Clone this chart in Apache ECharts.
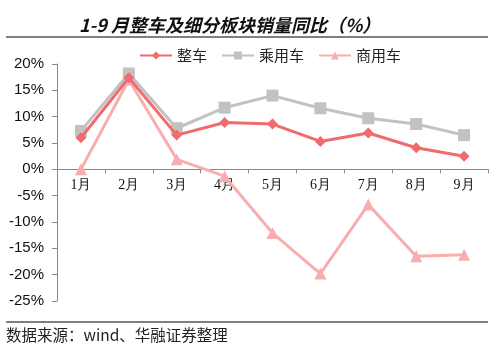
<!DOCTYPE html>
<html>
<head>
<meta charset="utf-8">
<script src="https://cdn.jsdelivr.net/npm/echarts@6/dist/echarts.min.js"></script>
<style>
html, body { margin: 0; padding: 0; background: #fff; }
#main { width: 500px; height: 354px; }
</style>
</head>
<body>
<div id="main"></div>
<script>
var months = ['1月', '2月', '3月', '4月', '5月', '6月', '7月', '8月', '9月'];
var zhengche = [6.0, 17.4, 6.5, 8.9, 8.6, 5.3, 6.9, 4.1, 2.5];
var chengyong = [7.3, 18.2, 7.8, 11.7, 14.0, 11.6, 9.7, 8.6, 6.5];
var shangyong = [0.0, 17.0, 1.9, -1.3, -12.1, -19.8, -6.7, -16.5, -16.2];

var myChart = echarts.init(document.getElementById('main'));
var cjk = '"Noto Sans CJK SC", sans-serif';

var option = {
    backgroundColor: '#fff',
    animation: false,
    title: {
        text: '1-9 月整车及细分板块销量同比（%）',
        left: 74,
        top: 11,
        textStyle: {
            fontFamily: cjk,
            fontSize: 18,
            fontWeight: 'bold',
            fontStyle: 'italic',
            color: '#111'
        }
    },
    legend: {
        data: ['整车', '乘用车', '商用车'],
        top: 43,
        left: 134,
        itemWidth: 32,
        itemHeight: 10,
        itemGap: 14,
        textStyle: { fontFamily: cjk, fontSize: 15, color: '#222' }
    },
    graphic: [
        { type: 'line', shape: { x1: 6, y1: 37, x2: 488, y2: 37 }, style: { stroke: '#000', lineWidth: 1 } },
        { type: 'line', shape: { x1: 6, y1: 322, x2: 488, y2: 322 }, style: { stroke: '#000', lineWidth: 1 } },
        {
            type: 'text', left: 6, top: 327,
            style: { text: '数据来源：wind、华融证券整理', font: '15.5px "Noto Sans CJK SC", sans-serif', fill: '#222' }
        }
    ],
    grid: { left: 57, right: 12, top: 64, bottom: 53, containLabel: false },
    xAxis: {
        type: 'category',
        data: months,
        boundaryGap: true,
        axisLine: { onZero: false, lineStyle: { color: '#888', width: 1 } },
        axisTick: { show: true, alignWithLabel: false, length: 4, lineStyle: { color: '#888' } },
        axisLabel: { fontFamily: 'serif', fontSize: 14, color: '#111', margin: 9 }
    },
    yAxis: {
        type: 'value',
        min: -25,
        max: 20,
        interval: 5,
        axisLine: { show: true, lineStyle: { color: '#888', width: 1 } },
        axisTick: { show: true, length: 5, lineStyle: { color: '#888' } },
        splitLine: { show: false },
        axisLabel: {
            formatter: '{value}%',
            fontFamily: 'Liberation Sans, Arial, sans-serif',
            fontSize: 15,
            color: '#111',
            margin: 13
        }
    },
    series: [
        {
            name: '商用车',
            type: 'line',
            data: shangyong,
            symbol: 'triangle',
            symbolSize: 12,
            z: 1,
            lineStyle: { color: '#F8AEAE', width: 3 },
            itemStyle: { color: '#F8AEAE' }
        },
        {
            name: '乘用车',
            type: 'line',
            data: chengyong,
            symbol: 'rect',
            symbolSize: 12,
            z: 2,
            lineStyle: { color: '#C2C2C2', width: 3 },
            itemStyle: { color: '#C2C2C2' }
        },
        {
            name: '整车',
            type: 'line',
            data: zhengche,
            symbol: 'diamond',
            symbolSize: 11,
            z: 3,
            lineStyle: { color: '#EF6B6E', width: 3 },
            itemStyle: { color: '#EF6B6E' }
        }
    ]
};
myChart.setOption(option);

// move the category axis (line, ticks, labels) up to the 0% line
var zeroY = myChart.convertToPixel({ yAxisIndex: 0 }, 0);
var minY = myChart.convertToPixel({ yAxisIndex: 0 }, -25);
myChart.setOption({ xAxis: { offset: -(minY - zeroY) } });
</script>
</body>
</html>
